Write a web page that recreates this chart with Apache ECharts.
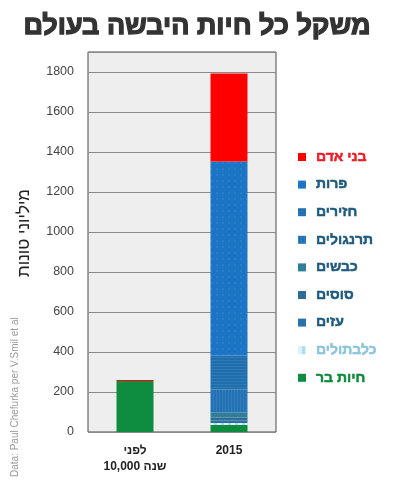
<!DOCTYPE html>
<html>
<head>
<meta charset="utf-8">
<script src="https://cdn.jsdelivr.net/npm/echarts@6/dist/echarts.min.js"></script>
<style>html,body{margin:0;padding:0;background:#fff;}#c{width:400px;height:487px;}</style>
</head>
<body>
<div id="c"></div>
<script>
const categories = ['לפני\n10,000 שנה', '2015'];
const seriesNames = ['חיות בר', 'כלבתולים', 'עזים', 'סוסים', 'כבשים', 'תרנגולים', 'חזירים', 'פרות', 'בני אדם'];
const wild = [255, 35];
const catsDogs = [0, 10];
const goats = [0, 12];
const horses = [0, 15];
const sheep = [0, 25];
const chickens = [0, 115];
const pigs = [0, 170];
const cows = [0, 970];
const humans = [5, 440];
const yTicks = [0, 200, 400, 600, 800, 1000, 1200, 1400, 1600, 1800];

const values = [wild, catsDogs, goats, horses, sheep, chickens, pigs, cows, humans];
const colors = ['#0e8c3f', '#a9def0', '#2a6fa6', '#2c6d96', '#2f7c96', '#2272b4', '#1f6fae', '#1c74c4', '#ff0000'];
const legendText = ['#0f8a3c', '#8cc4dc', '#1f5a7e', '#1f5a7e', '#1f5a7e', '#1f5a7e', '#1f5a7e', '#1f5a7e', '#ee1c25'];
const decals = [
  null,
  {color: 'rgba(255,255,255,0.6)', symbol: 'rect', dashArrayX: [4, 3], dashArrayY: [1, 0]},
  {color: 'rgba(255,255,255,0.1)', symbol: 'rect', dashArrayX: [1, 2], dashArrayY: [1, 2]},
  {color: 'rgba(255,255,255,0.1)', symbol: 'rect', dashArrayX: [1, 2], dashArrayY: [1, 2]},
  {color: 'rgba(255,255,255,0.1)', symbol: 'rect', dashArrayX: [1, 2], dashArrayY: [1, 2], rotation: Math.PI / 4},
  {color: 'rgba(255,255,255,0.07)', symbol: 'rect', dashArrayX: [1, 2], dashArrayY: [1, 0]},
  {color: 'rgba(255,255,255,0.07)', symbol: 'rect', dashArrayX: [1, 0], dashArrayY: [1, 2]},
  {color: 'rgba(255,255,255,0.28)', symbol: 'circle', symbolSize: 0.6, dashArrayX: [2, 4], dashArrayY: [2, 4]},
  null
];

const FONT = "'Liberation Sans', Arial, 'DejaVu Sans', sans-serif";

const series = seriesNames.map((n, i) => {
  const it = {color: colors[i]};
  if (decals[i]) it.decal = decals[i];
  return {
    name: n, type: 'bar', stack: 'all', barWidth: 37,
    data: values[i], itemStyle: it, emphasis: {disabled: true}
  };
});

const legendOrder = seriesNames.slice().reverse();
const legendData = legendOrder.map(n => {
  const i = seriesNames.indexOf(n);
  return {name: n, textStyle: {color: legendText[i], textBorderColor: legendText[i], textBorderWidth: 0.5}};
});

const chart = echarts.init(document.getElementById('c'), null, {renderer: 'canvas'});
chart.setOption({
  animation: false,
  backgroundColor: '#ffffff',
  textStyle: {fontFamily: FONT},
  title: {
    text: 'משקל כל חיות היבשה בעולם',
    left: 192, top: 8, textAlign: 'center',
    textStyle: {fontSize: 27, fontWeight: 900, color: '#333333', textBorderColor: '#333333', textBorderWidth: 1.3, fontFamily: FONT}
  },
  legend: {
    orient: 'vertical', left: 293, top: 144,
    itemWidth: 8, itemHeight: 8, itemGap: 11.6, icon: 'rect',
    data: legendData,
    textStyle: {fontSize: 14, fontWeight: 'bold', lineHeight: 16, padding: [0, 0, 0, 5], fontFamily: FONT},
    selectedMode: false
  },
  grid: {
    left: 88, right: 124, top: 52, bottom: 55,
    show: true, backgroundColor: '#eeeeee', borderColor: '#4a4a4a', borderWidth: 1
  },
  xAxis: {
    type: 'category', data: categories,
    axisLine: {show: false}, axisTick: {show: false},
    axisLabel: {margin: 11, fontSize: 12, fontWeight: 'bold', color: '#222', lineHeight: 16, fontFamily: FONT}
  },
  yAxis: {
    type: 'value', min: 0, max: 1900, interval: 200,
    axisLine: {show: false}, axisTick: {show: false},
    splitLine: {lineStyle: {color: '#8a8a8a', width: 1}},
    axisLabel: {
      margin: 14, fontSize: 12.5, color: '#444',
      formatter: v => (yTicks.indexOf(v) >= 0 ? String(v) : '')
    }
  },
  graphic: [
    {
      type: 'text', x: 24, y: 233, rotation: Math.PI / 2,
      style: {text: 'מיליוני טונות', fontSize: 17, fill: '#222', align: 'center', verticalAlign: 'middle', fontFamily: FONT}
    },
    {
      type: 'text', x: 15, y: 477, rotation: Math.PI / 2,
      style: {text: 'Data: Paul Chefurka per V.Smil et al', fontSize: 10, fill: '#9a9a9a', align: 'left', verticalAlign: 'middle', fontFamily: FONT}
    }
  ],
  series: series
});
</script>
</body>
</html>
